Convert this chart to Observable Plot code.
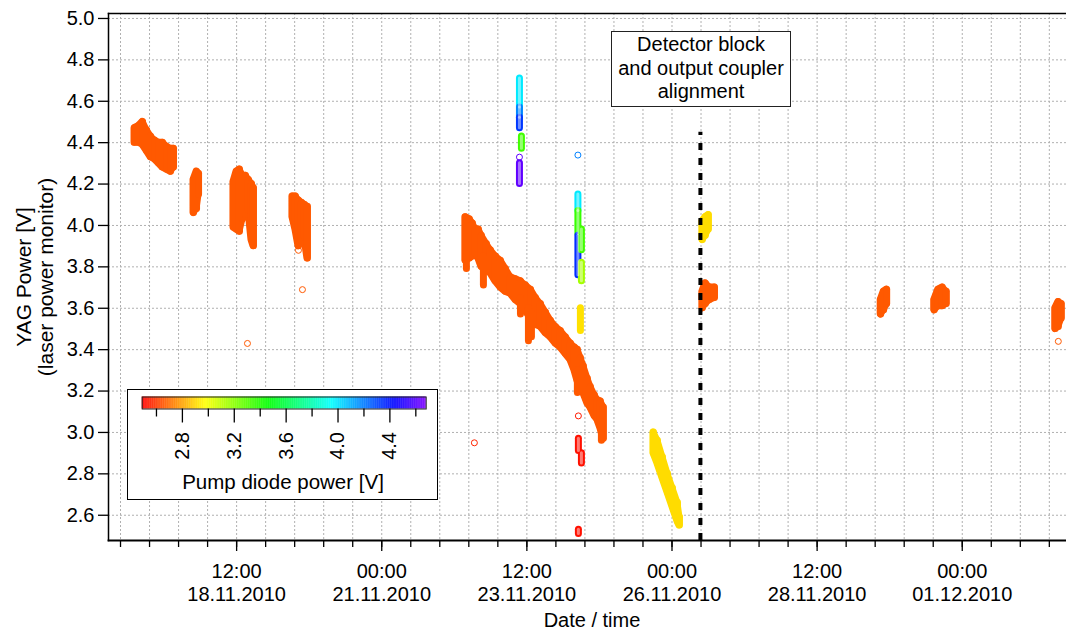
<!DOCTYPE html>
<html><head><meta charset="utf-8">
<script src="https://cdn.jsdelivr.net/npm/d3@7"></script>
<script src="https://cdn.jsdelivr.net/npm/@observablehq/plot@0.6"></script>
<style>
body{margin:0;background:#fff;font-family:"Liberation Sans",Arial,sans-serif;}
#wrap{position:relative;width:1066px;height:633px;overflow:hidden;background:#fff}
#legend{position:absolute;left:127px;top:389px;width:311px;height:111px;box-sizing:border-box;border:1px solid #000;background:#fff}
#note{position:absolute;left:611px;top:31px;width:180px;height:76px;box-sizing:border-box;border:1.5px solid #222;background:#fff;text-align:center;font-size:20px;line-height:23.5px;padding-top:1px;color:#000}
</style></head><body>
<div id="wrap"><div id="note">Detector block<br>and output coupler<br>alignment</div></div>
<script>
// ---- data ----
// dense clusters: [cluster id, time (UTC), low YAG V, high YAG V, pump diode V]
const bandCols = [
["A","2010-11-16T17:48",4.40,4.47,2.66],
["A","2010-11-16T19:27",4.40,4.48,2.66],
["A","2010-11-16T21:07",4.39,4.50,2.66],
["A","2010-11-16T22:46",4.36,4.46,2.66],
["A","2010-11-17T00:25",4.33,4.43,2.66],
["A","2010-11-17T02:04",4.32,4.41,2.66],
["A","2010-11-17T03:43",4.30,4.40,2.66],
["A","2010-11-17T05:22",4.28,4.40,2.66],
["A","2010-11-17T07:02",4.27,4.38,2.66],
["A","2010-11-17T08:41",4.26,4.37,2.66],
["A","2010-11-17T09:55",4.28,4.37,2.66],
["B","2010-11-17T18:11",4.06,4.22,2.66],
["B","2010-11-17T19:26",4.08,4.26,2.66],
["B","2010-11-17T20:16",4.15,4.25,2.66],
["C","2010-11-18T10:42",3.99,4.21,2.66],
["C","2010-11-18T11:57",3.98,4.26,2.66],
["C","2010-11-18T13:11",3.97,4.27,2.66],
["C","2010-11-18T14:26",4.03,4.24,2.66],
["C","2010-11-18T15:40",4.05,4.24,2.66],
["C","2010-11-18T16:54",4.07,4.22,2.66],
["C","2010-11-18T18:09",3.93,4.20,2.66],
["C","2010-11-18T18:58",3.90,4.18,2.66],
["D","2010-11-19T11:05",4.04,4.14,2.66],
["D","2010-11-19T12:19",3.98,4.14,2.66],
["D","2010-11-19T13:34",3.90,4.12,2.66],
["D","2010-11-19T14:48",3.92,4.11,2.66],
["D","2010-11-19T16:02",3.94,4.10,2.66],
["D","2010-11-19T17:17",3.84,4.09,2.66],
["M","2010-11-22T10:35",3.83,4.04,2.66],
["M","2010-11-22T12:14",3.84,4.03,2.66],
["M","2010-11-22T13:29",3.85,4.01,2.66],
["M","2010-11-22T14:43",3.86,3.98,2.66],
["M","2010-11-22T15:58",3.84,3.98,2.66],
["M","2010-11-22T17:12",3.80,3.95,2.66],
["M","2010-11-22T19:16",3.78,3.91,2.66],
["M","2010-11-22T20:55",3.77,3.88,2.66],
["M","2010-11-22T22:59",3.73,3.85,2.66],
["M","2010-11-23T01:04",3.70,3.83,2.66],
["M","2010-11-23T03:08",3.68,3.79,2.66],
["M","2010-11-23T05:13",3.67,3.75,2.66],
["M","2010-11-23T07:17",3.64,3.74,2.66],
["M","2010-11-23T09:21",3.62,3.73,2.66],
["M","2010-11-23T11:25",3.59,3.71,2.66],
["M","2010-11-23T13:31",3.55,3.69,2.66],
["M","2010-11-23T15:33",3.52,3.65,2.66],
["M","2010-11-23T17:37",3.51,3.62,2.66],
["M","2010-11-23T19:41",3.48,3.58,2.66],
["M","2010-11-23T21:45",3.46,3.54,2.66],
["M","2010-11-23T23:49",3.43,3.51,2.66],
["M","2010-11-24T01:52",3.41,3.49,2.66],
["M","2010-11-24T03:56",3.38,3.46,2.66],
["M","2010-11-24T06:00",3.35,3.43,2.66],
["M","2010-11-24T07:39",3.30,3.41,2.66],
["M","2010-11-24T08:53",3.25,3.40,2.66],
["M","2010-11-24T10:08",3.21,3.36,2.66],
["M","2010-11-24T11:22",3.19,3.32,2.66],
["M","2010-11-24T13:01",3.14,3.26,2.66],
["M","2010-11-24T14:16",3.12,3.22,2.66],
["M","2010-11-24T15:55",3.08,3.18,2.66],
["M","2010-11-24T17:10",3.06,3.155,2.66],
["M","2010-11-24T18:24",3.02,3.15,2.66],
["M","2010-11-24T19:38",2.97,3.12,2.66],
["Y1","2010-11-25T16:20",2.90,3.00,2.91],
["Y1","2010-11-25T17:59",2.85,2.96,2.91],
["Y1","2010-11-25T20:03",2.78,2.88,2.91],
["Y1","2010-11-25T22:07",2.71,2.80,2.91],
["Y1","2010-11-26T00:11",2.64,2.73,2.91],
["Y1","2010-11-26T02:15",2.57,2.66,2.91],
["Y1","2010-11-26T03:05",2.55,2.59,2.91],
["Y2","2010-11-26T12:34",3.93,4.02,2.91],
["Y2","2010-11-26T13:48",3.95,4.04,2.91],
["Y2","2010-11-26T15:03",3.98,4.05,2.91],
["O2","2010-11-26T12:34",3.60,3.68,2.66],
["O2","2010-11-26T13:48",3.62,3.72,2.66],
["O2","2010-11-26T15:30",3.64,3.70,2.66],
["O2","2010-11-26T17:34",3.65,3.70,2.66],
["E","2010-11-29T14:17",3.57,3.64,2.66],
["E","2010-11-29T15:31",3.59,3.68,2.66],
["E","2010-11-29T16:45",3.62,3.69,2.66],
["F","2010-11-30T12:26",3.59,3.64,2.66],
["F","2010-11-30T14:05",3.61,3.69,2.66],
["F","2010-11-30T15:45",3.61,3.70,2.66],
["F","2010-11-30T17:24",3.62,3.68,2.66],
["G","2010-12-02T14:28",3.50,3.60,2.66],
["G","2010-12-02T15:43",3.51,3.63,2.66],
["G","2010-12-02T16:57",3.55,3.62,2.66]
];
// dense vertical streaks of points: [time, low, high, pump]
const streakCols = [
["2010-11-22T11:00",3.79,3.86,2.66],
["2010-11-22T18:02",3.71,3.85,2.66],
["2010-11-23T09:21",3.57,3.65,2.66],
["2010-11-23T12:39",3.44,3.60,2.66],
["2010-11-23T13:53",3.46,3.58,2.66],
["2010-11-24T08:53",3.19,3.30,2.66],
["2010-11-24T18:49",2.96,3.05,2.66],
["2010-11-24T10:08",3.49,3.60,2.92]
];
// sparser vertical streaks (open circles visible): [time, low, high, pump]
const ringCols = [
["2010-11-23T08:56",4.57,4.71,3.99],
["2010-11-23T08:56",4.52,4.57,4.18],
["2010-11-23T08:56",4.47,4.52,4.33],
["2010-11-23T09:45",4.37,4.43,3.34],
["2010-11-23T08:56",4.20,4.30,4.62],
["2010-11-24T09:06",4.07,4.15,3.99],
["2010-11-24T09:06",3.96,4.07,3.36],
["2010-11-24T09:06",3.76,3.95,4.35],
["2010-11-24T10:33",3.88,3.98,3.34],
["2010-11-24T10:33",3.73,3.82,3.15],
["2010-11-24T09:18",2.91,2.97,2.52],
["2010-11-24T10:33",2.85,2.90,2.52],
["2010-11-24T09:18",2.51,2.53,2.52]
];
// single points: [time, YAG V, pump V]
const singlePoints = [
["2010-11-18T16:29",3.43,2.66],
["2010-11-19T13:34",3.88,2.66],
["2010-11-19T15:13",3.69,2.66],
["2010-11-22T14:18",2.95,2.56],
["2010-11-23T08:56",4.33,4.62],
["2010-11-24T09:06",4.34,4.19],
["2010-11-24T09:18",3.08,2.54],
["2010-12-02T15:43",3.44,2.66]
];
const alignmentTime = ["2010-11-26T11:45"];
const alignmentTop = 4.45;
const yTicks = [2.6,2.8,3.0,3.2,3.4,3.6,3.8,4.0,4.2,4.4,4.6,4.8,5.0];
const majorTickTimes = ["2010-11-18T12:00","2010-11-21T00:00","2010-11-23T12:00","2010-11-26T00:00","2010-11-28T12:00","2010-12-01T00:00"];
const majorTickLabels = ["12:00\n18.11.2010","00:00\n21.11.2010","12:00\n23.11.2010","00:00\n26.11.2010","12:00\n28.11.2010","00:00\n01.12.2010"];
const legendMajorTicks = [2.8,3.2,3.6,4.0,4.4];
const legendMinorTicks = [2.6,3.0,3.4,3.8,4.2,4.6];
const pumpDomain = [2.49, 4.68];
const xDomain = ["2010-11-16T07:02","2010-12-02T19:06"];
const yDomain = [2.478, 5.024];

// ---- build ----
const parse = s => new Date(s + ":00Z");
const bands = bandCols.map(([id,t,lo,hi,p]) => ({id, t: parse(t), lo, hi, p}));
const streaks = streakCols.map(([t,lo,hi,p]) => ({t: parse(t), lo, hi, p}));
const rings = ringCols.map(([t,lo,hi,p]) => ({t: parse(t), lo, hi, p}));
const pts = singlePoints.map(([t,v,p]) => ({t: parse(t), v, p}));
const dash = alignmentTime.map(t => ({t: parse(t), top: alignmentTop}));
const majorTicks = majorTickTimes.map(parse);
const labelMap = new Map(majorTicks.map((d,i) => [+d, majorTickLabels[i]]));
const minorTicks = d3.utcHour.every(12).range(parse("2010-11-16T12:00"), parse("2010-12-02T12:01"));
const colorSpec = {type: "linear", domain: pumpDomain, interpolate: t => d3.hsl(270*t, 1, 0.5).formatHex()};
const font = "'Liberation Sans', Arial, Helvetica, sans-serif";
const gridStyle = {stroke: "#b0b0b0", strokeOpacity: 1, strokeDasharray: "2,2", strokeWidth: 1};

const chart = Plot.plot({
  width: 1066, height: 633,
  marginTop: 13, marginBottom: 93, marginLeft: 108, marginRight: 0,
  style: {fontFamily: font, fontSize: "20px", background: "white", color: "black", overflow: "visible"},
  x: {type: "utc", domain: xDomain.map(parse)},
  y: {domain: yDomain},
  color: colorSpec,
  marks: [
    Plot.gridY(yTicks, gridStyle),
    Plot.gridX(minorTicks, gridStyle),
    Plot.areaY(bands, {x: "t", y1: "lo", y2: "hi", z: "id", fill: "p", stroke: "p", strokeWidth: 7, strokeLinejoin: "round"}),
    Plot.ruleX(bands, {x: "t", y1: "lo", y2: "hi", stroke: "p", strokeWidth: 7, strokeLinecap: "round"}),
    Plot.ruleX(streaks, {x: "t", y1: "lo", y2: "hi", stroke: "p", strokeWidth: 7, strokeLinecap: "round"}),
    Plot.ruleX(rings, {x: "t", y1: "lo", y2: "hi", stroke: "p", strokeWidth: 7, strokeLinecap: "round"}),
    Plot.ruleX(rings, {x: "t", y1: "lo", y2: "hi", stroke: "white", strokeOpacity: 0.45, strokeWidth: 3, strokeLinecap: "round"}),
    Plot.dot(pts, {x: "t", y: "v", stroke: "p", r: 3, strokeWidth: 1}),
    Plot.ruleX(dash, {x: "t", y1: yDomain[0], y2: "top", stroke: "black", strokeWidth: 4, strokeDasharray: "7,8"}),
    Plot.axisY(yTicks, {tickFormat: d3.format(".1f"), tickSize: 10, tickPadding: 4, label: null, strokeWidth: 1.3}),
    Plot.axisX(minorTicks, {tickSize: 7, tickFormat: () => "", label: null, strokeWidth: 1.3}),
    Plot.axisX(majorTicks, {tickSize: 11, tickPadding: 10, tickFormat: d => labelMap.get(+d), lineHeight: 1.165, label: null, strokeWidth: 1.3}),
    Plot.frame({anchor: "top", strokeWidth: 1.5}),
    Plot.frame({anchor: "left", strokeWidth: 1.5}),
    Plot.frame({anchor: "bottom", strokeWidth: 1.8})
  ]
});
const svg = d3.select(chart);
svg.append("text").attr("transform", "translate(31,277) rotate(-90)").attr("text-anchor", "middle")
  .attr("font-size", 21).attr("fill", "black").text("YAG Power [V]");
svg.append("text").attr("transform", "translate(53,277) rotate(-90)").attr("text-anchor", "middle")
  .attr("font-size", 21).attr("fill", "black").text("(laser power monitor)");
svg.append("text").attr("x", 592).attr("y", 627).attr("text-anchor", "middle")
  .attr("font-size", 20).attr("fill", "black").text("Date / time");
const wrap = document.getElementById("wrap");
wrap.insertBefore(chart, wrap.firstChild);

// ---- colour legend ----
const ramp = d3.range(pumpDomain[0], pumpDomain[1], 0.005).map(v => ({v}));
const legend = Plot.plot({
  width: 309, height: 109,
  marginLeft: 13.7, marginRight: 11.3, marginTop: 6.5, marginBottom: 90.5,
  style: {fontFamily: font, fontSize: "20px", background: "white", color: "black", overflow: "visible"},
  x: {domain: pumpDomain},
  color: colorSpec,
  marks: [
    Plot.rect(ramp, {x1: "v", x2: d => Math.min(d.v + 0.0065, pumpDomain[1]), fill: "v"}),
    Plot.frame({stroke: "#222", strokeWidth: 1}),
    Plot.axisX(legendMinorTicks, {tickSize: 8, tickFormat: () => "", label: null, strokeWidth: 1.3}),
    Plot.axisX(legendMajorTicks, {tickSize: 14, tickPadding: 9, tickRotate: -90, tickFormat: d3.format(".1f"), label: null, strokeWidth: 1.3})
  ]
});
d3.select(legend).append("text").attr("x", 155).attr("y", 99).attr("text-anchor", "middle")
  .attr("font-size", 20.5).attr("fill", "black").text("Pump diode power [V]");
const lg = document.createElement("div");
lg.id = "legend";
lg.appendChild(legend);
wrap.appendChild(lg);
</script></body></html>
